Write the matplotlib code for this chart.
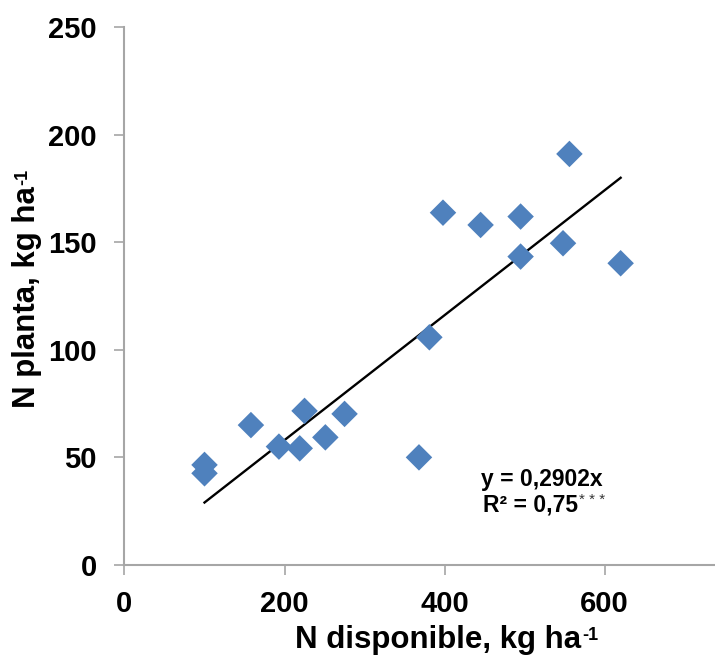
import numpy as np
import matplotlib
matplotlib.use("Agg")
import matplotlib.pyplot as plt

plt.rcParams['font.family'] = ['Liberation Sans', 'DejaVu Sans']
plt.rcParams['font.weight'] = 'bold'

# N disponible vs N planta (kg/ha)
n_disponible = [100, 100, 158, 193, 219, 225, 251, 275, 368, 381,
                398, 445, 495, 495, 548, 556, 620]
n_planta = [46.5, 42.6, 65, 55, 54.2, 71.6, 59.3, 70.2, 50, 105.8,
            163.7, 158, 161.9, 143.3, 149.5, 191, 140.2]

# linear fit through origin
slope = 0.2902
r2_text = "0,75"

x_ticks = [0, 200, 400, 600]
y_ticks = [0, 50, 100, 150, 200, 250]

fig = plt.figure(figsize=(7.15, 6.66), dpi=100)
ax = fig.add_axes([0.1741, 0.1517, 0.826, 0.8078])

ax.scatter(n_disponible, n_planta, marker='D', s=13.5**2,
           color='#4F81BD', edgecolors='none', zorder=3)

xfit = np.array([min(n_disponible), max(n_disponible)])
ax.plot(xfit, slope * xfit, color='black', lw=1.7, zorder=2)

ax.set_xlim(0, 738)
ax.set_ylim(0, 250)
ax.set_xticks(x_ticks)
ax.set_yticks(y_ticks)

for s in ['top', 'right']:
    ax.spines[s].set_visible(False)
for s in ['left', 'bottom']:
    ax.spines[s].set_color('#A6A6A6')
    ax.spines[s].set_linewidth(1.5)

ax.tick_params(axis='both', direction='out', length=7, width=1.2,
               color='#A6A6A6', labelsize=21, labelcolor='black')
ax.tick_params(axis='y', pad=13)
ax.tick_params(axis='x', pad=11)
for lbl in ax.get_xticklabels() + ax.get_yticklabels():
    lbl.set_fontweight('bold')

# axis labels, with a small "-1" exponent after "ha"
ax.set_xlabel("N disponible, kg ha", fontsize=22.5, fontweight='bold')
ax.xaxis.set_label_coords(0.531, -0.139)
ax.xaxis.label.set_verticalalignment('center')
ax.annotate("-1", xy=(1.0, 0.93), xycoords=ax.xaxis.label,
            xytext=(1, 0), textcoords='offset points',
            fontsize=13, fontweight='bold', ha='left', va='top')

ax.set_ylabel("N planta, kg ha", fontsize=22.5, fontweight='bold')
ax.yaxis.set_label_coords(-0.165, 0.498)
ax.yaxis.label.set_verticalalignment('center')
ax.annotate("-1", xy=(0.07, 1.0), xycoords=ax.yaxis.label,
            xytext=(0, 1), textcoords='offset points', rotation=90,
            fontsize=13, fontweight='bold', ha='left', va='bottom')

ax.text(446, 39.5, "y = 0,2902x", fontsize=16.5, fontweight='bold',
        ha='left', va='center')
r2 = ax.text(448, 28, "R² = " + r2_text, fontsize=16.5, fontweight='bold',
             ha='left', va='center')
ax.annotate("* * *", xy=(1.0, 1.0), xycoords=r2,
            xytext=(1, 0), textcoords='offset points', fontsize=11,
            fontweight='normal', color='#333333', ha='left', va='top')

fig.savefig("out.png", dpi=100)
